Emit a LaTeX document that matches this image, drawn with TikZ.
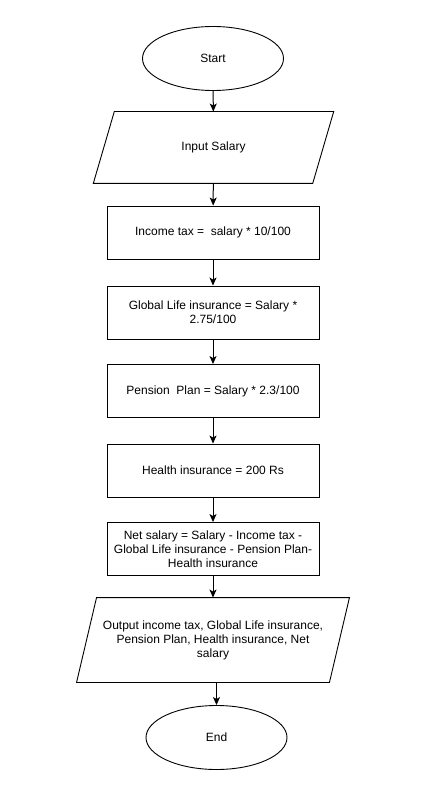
\documentclass[tikz,border=0pt]{standalone}
\usepackage{fontspec}
\setmainfont{Liberation Sans}
\usetikzlibrary{arrows.meta,calc,shapes.geometric}
\begin{document}
\begin{tikzpicture}[x=1pt,y=-1pt,
  every node/.style={font=\fontsize{12}{14}\selectfont, align=center, line width=0.9pt},
  procbox/.style={draw, rectangle, minimum width=212pt, minimum height=53pt, inner sep=2pt},
  termin/.style={draw, ellipse, minimum width=141pt, minimum height=64pt, inner sep=0pt},
  iobox/.style={rectangle, inner sep=0pt},
  ioline/.style={line width=0.9pt},
  conn/.style={-{Stealth[length=8pt,width=7pt,inset=2pt]}, line width=1pt}
]
\fill[white] (0,0) rectangle (422,802);
\useasboundingbox (0,0) rectangle (422,802);

\node[termin] (start) at (213,58.5) {Start};

\node[iobox, minimum width=218.5pt, minimum height=71pt] (in) at (213.5,147.5) {Input Salary};
\draw[ioline] ($(in.south west)+(-10.5,0)$) -- ($(in.south east)+(-10.5,0)$) -- ($(in.north east)+(10.5,0)$) -- ($(in.north west)+(10.5,0)$) -- cycle;

\node[procbox] (tax) at (213,232.5) {Income tax =~ salary * 10/100};
\node[procbox] (gli) at (213,312.5) {Global Life insurance = Salary *\\2.75/100};
\node[procbox] (pen) at (213,391) {Pension~ Plan = Salary * 2.3/100};
\node[procbox] (hea) at (213,470.5) {Health insurance = 200 Rs};
\node[procbox] (net) at (213,549) {Net salary = Salary - Income tax -\\Global Life insurance - Pension Plan-\\Health insurance};

\node[iobox, minimum width=252pt, minimum height=84pt] (out) at (213,640) {Output income tax, Global Life insurance,\\Pension Plan, Health insurance, Net\\salary};
\draw[ioline] ($(out.south west)+(-10,0)$) -- ($(out.south east)+(-10,0)$) -- ($(out.north east)+(10,0)$) -- ($(out.north west)+(10,0)$) -- cycle;

\node[termin] (endn) at (216.5,737.5) {End};

\draw[conn] (start) -- (in);
\draw[conn] (in) -- (tax);
\draw[conn] (tax) -- (gli);
\draw[conn] (gli) -- (pen);
\draw[conn] (pen) -- (hea);
\draw[conn] (hea) -- (net);
\draw[conn] (net) -- (out);
\draw[conn] (out.south -| endn.north) -- (endn.north);
\end{tikzpicture}
\end{document}
